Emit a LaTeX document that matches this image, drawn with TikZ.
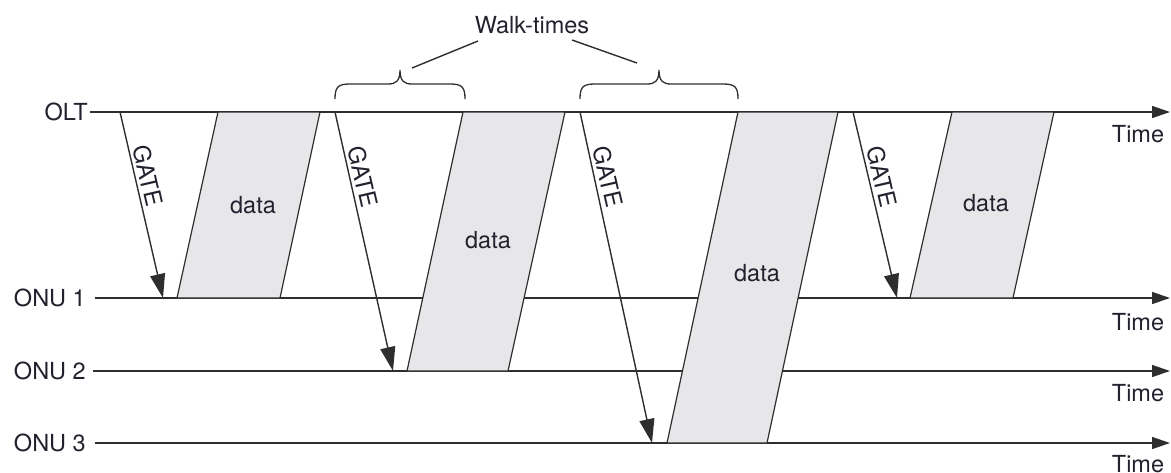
\documentclass[tikz,border=0pt]{standalone}
\usepackage{fontspec}
\setmainfont{TeX Gyre Heros}
\usetikzlibrary{arrows.meta}
\definecolor{lc}{HTML}{2E2E2E}
\definecolor{boxfill}{HTML}{E7E7EA}
\definecolor{tc}{HTML}{22222E}
\begin{document}
\begin{tikzpicture}[x=1pt,y=-1pt,
  line/.style={draw=lc, line width=1.4pt},
  timeaxis/.style={line, -{Triangle[length=18pt,width=12pt]}},
  gatearrow/.style={line, -{Triangle[length=24pt,width=15pt]}},
  databox/.style={fill=boxfill, draw=lc, line width=1.2pt},
  lbl/.style={font=\fontsize{23.5}{28}\selectfont, text=tc, inner sep=0pt},
  gatelbl/.style={lbl, rotate=-77},
  bracepath/.style={draw=lc, line width=1.3pt},
]
\useasboundingbox (0,0) rectangle (1171,472);

% row labels
\node[lbl, anchor=east] (olt)  at (88,112) {OLT};
\node[lbl, anchor=east] (onu1) at (86,298) {ONU 1};
\node[lbl, anchor=east] (onu2) at (86,371) {ONU 2};
\node[lbl, anchor=east] (onu3) at (86,443) {ONU 3};

% time line ends
\coordinate (oltS)  at (90,112);  \coordinate (oltE)  at (1170,112);
\coordinate (onu1S) at (95,298);  \coordinate (onu1E) at (1170,298);
\coordinate (onu2S) at (93,371);  \coordinate (onu2E) at (1170,371);
\coordinate (onu3S) at (95,443);  \coordinate (onu3E) at (1170,443);

\draw[timeaxis] (oltS) -- (oltE);
\draw[timeaxis] (onu1S) -- (onu1E);
\draw[timeaxis] (onu2S) -- (onu2E);
\draw[timeaxis] (onu3S) -- (onu3E);

\node[lbl] (t0) at (1138,134) {Time};
\node[lbl] (t1) at (1138,322) {Time};
\node[lbl] (t2) at (1138,393) {Time};
\node[lbl] (t3) at (1138,464) {Time};

% data boxes
\coordinate (d1a) at (218,112); \coordinate (d1b) at (320,112);
\coordinate (d1c) at (280,298); \coordinate (d1d) at (177,298);
\coordinate (d2a) at (463,112); \coordinate (d2b) at (565,112);
\coordinate (d2c) at (508,371); \coordinate (d2d) at (407,371);
\coordinate (d3a) at (738,112); \coordinate (d3b) at (838,112);
\coordinate (d3c) at (767,443); \coordinate (d3d) at (667,443);
\coordinate (d4a) at (952,112); \coordinate (d4b) at (1054,112);
\coordinate (d4c) at (1013,298); \coordinate (d4d) at (910,298);

\draw[databox] (d1a) -- (d1b) -- (d1c) -- (d1d) -- cycle;
\draw[databox] (d2a) -- (d2b) -- (d2c) -- (d2d) -- cycle;
\draw[databox] (d3a) -- (d3b) -- (d3c) -- (d3d) -- cycle;
\draw[databox] (d4a) -- (d4b) -- (d4c) -- (d4d) -- cycle;

\node[lbl] (data1) at (253,205) {data};
\node[lbl] (data2) at (488,240) {data};
\node[lbl] (data3) at (757,273) {data};
\node[lbl] (data4) at (986,203) {data};

% GATE messages
\coordinate (g1s) at (120,112); \coordinate (g1e) at (163,298);
\coordinate (g2s) at (335,112); \coordinate (g2e) at (393,371);
\coordinate (g3s) at (580,112); \coordinate (g3e) at (652,443);
\coordinate (g4s) at (853,112); \coordinate (g4e) at (897,298);

\draw[gatearrow] (g1s) -- (g1e);
\draw[gatearrow] (g2s) -- (g2e);
\draw[gatearrow] (g3s) -- (g3e);
\draw[gatearrow] (g4s) -- (g4e);

\node[gatelbl] (gl1) at (148,176) {GATE};
\node[gatelbl] (gl2) at (363,177) {GATE};
\node[gatelbl] (gl3) at (608,177) {GATE};
\node[gatelbl] (gl4) at (882,177) {GATE};

% walk-time braces
\draw[bracepath] (335,99) .. controls (335,87) and (338,84) .. (350,84) -- (388,84)
  .. controls (396,84) and (400,81) .. (400,70)
  .. controls (400,81) and (404,84) .. (412,84) -- (450,84)
  .. controls (462,84) and (465,87) .. (465,99);
\draw[bracepath] (580,99) .. controls (580,87) and (583,84) .. (595,84) -- (647,84)
  .. controls (655,84) and (659,81) .. (659,70)
  .. controls (659,81) and (663,84) .. (671,84) -- (723,84)
  .. controls (735,84) and (738,87) .. (738,99);

\node[lbl] (walk) at (532,25) {Walk-times};
\coordinate (w1a) at (412,68); \coordinate (w1b) at (478,41);
\coordinate (w2a) at (572,40); \coordinate (w2b) at (637,63);
\draw[line] (w1a) -- (w1b);
\draw[line] (w2a) -- (w2b);
\end{tikzpicture}
\end{document}
